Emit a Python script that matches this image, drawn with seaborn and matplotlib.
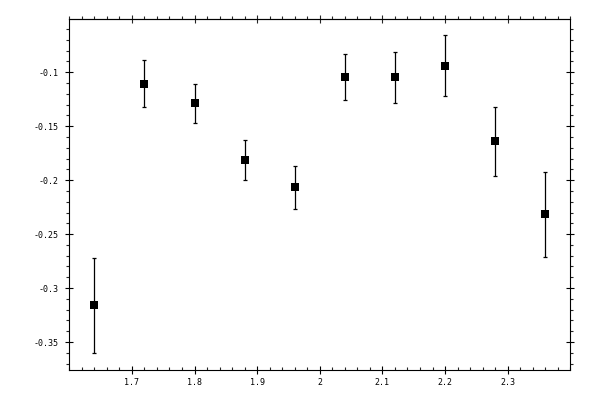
import matplotlib
matplotlib.use('Agg')
import matplotlib.pyplot as plt
import matplotlib.ticker as mticker
import seaborn as sns
import pandas as pd

# values
x_vals = [1.64, 1.72, 1.80, 1.88, 1.96, 2.04, 2.12, 2.20, 2.28, 2.36]
y_vals = [-0.316, -0.1105, -0.129, -0.1817, -0.2068, -0.1049, -0.1049, -0.0938, -0.1642, -0.2318]
y_err = [0.044, 0.022, 0.0185, 0.0185, 0.020, 0.0213, 0.0236, 0.0278, 0.0324, 0.0394]

# labelled ticks (the edges 1.6 / 2.4 / -0.05 carry no label)
x_ticks = [1.7, 1.8, 1.9, 2.0, 2.1, 2.2, 2.3]
y_ticks = [-0.35, -0.3, -0.25, -0.2, -0.15, -0.1]

df = pd.DataFrame({'x': x_vals, 'y': y_vals, 'err': y_err})

sns.set_style('white')
plt.rcParams['font.family'] = ['DejaVu Sans Mono']
plt.rcParams['axes.unicode_minus'] = False

fig = plt.figure(figsize=(6, 4), dpi=100)
ax = fig.add_axes([0.1155, 0.075, 0.835, 0.877])

ax.errorbar(df['x'], df['y'], yerr=df['err'], fmt='none', ecolor='black',
            elinewidth=0.9, capsize=1.7, capthick=0.9)
sns.scatterplot(data=df, x='x', y='y', marker='s', color='black', s=30,
                edgecolor='black', linewidth=0, ax=ax, zorder=3)

ax.set_xlim(1.6, 2.4)
ax.set_ylim(-0.3759, -0.0509)
ax.set_xlabel('')
ax.set_ylabel('')

fmt = mticker.FuncFormatter(lambda v, p: '%g' % round(v, 4))
ax.xaxis.set_major_locator(mticker.FixedLocator(x_ticks))
ax.xaxis.set_minor_locator(mticker.MultipleLocator(0.02))
ax.yaxis.set_major_locator(mticker.FixedLocator(y_ticks))
ax.yaxis.set_minor_locator(mticker.MultipleLocator(0.01))
ax.xaxis.set_major_formatter(fmt)
ax.yaxis.set_major_formatter(fmt)

for s in ax.spines.values():
    s.set_linewidth(0.8)
    s.set_color('black')

ax.tick_params(axis='x', which='major', direction='inout', length=6, width=0.8,
               bottom=True, top=False, labelsize=6, pad=3, colors='black')
ax.tick_params(axis='x', which='minor', direction='in', length=2.5, width=0.8,
               bottom=True, top=False)
ax.tick_params(axis='y', which='major', direction='inout', length=6, width=0.8,
               left=True, right=True, labelsize=6, pad=5, colors='black')
ax.tick_params(axis='y', which='minor', direction='out', length=2.5, width=0.8,
               left=True, right=True)

# top axis: minor ticks point outward there
top = ax.secondary_xaxis('top')
top.xaxis.set_major_locator(mticker.FixedLocator(x_ticks))
top.xaxis.set_minor_locator(mticker.MultipleLocator(0.02))
top.tick_params(axis='x', which='major', direction='inout', length=6, width=0.8,
                labeltop=False)
top.tick_params(axis='x', which='minor', direction='out', length=2.5, width=0.8)
top.spines['top'].set_linewidth(0.8)

fig.savefig('out.png', dpi=100)
